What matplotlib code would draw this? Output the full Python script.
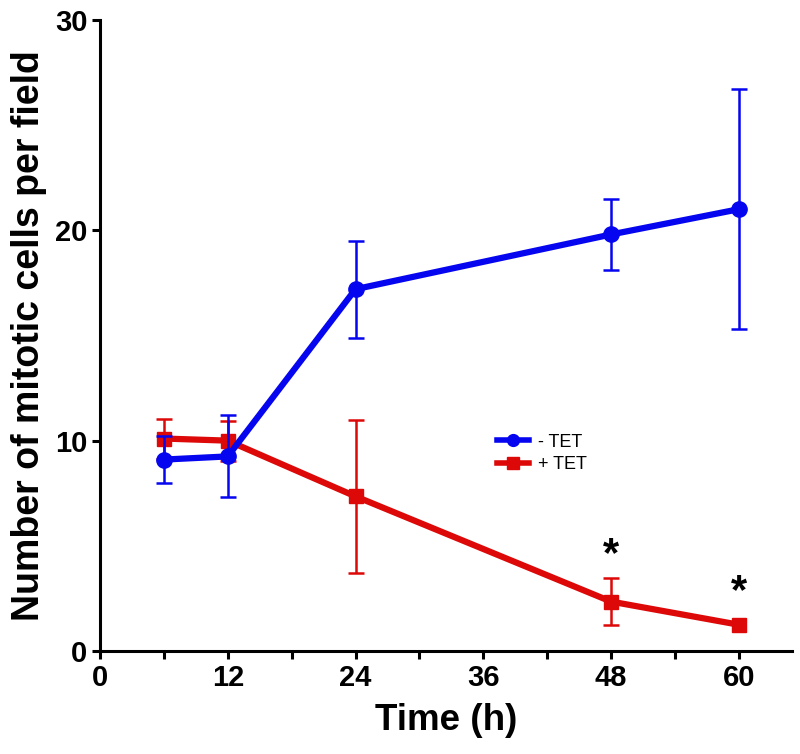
import matplotlib
matplotlib.use("Agg")
import matplotlib.pyplot as plt
from matplotlib.ticker import MultipleLocator
from matplotlib.lines import Line2D
import numpy as np

# Datos
tiempo_menos = [6, 12, 24, 48, 60]
media_menos = [9.1, 9.25, 17.2, 19.8, 21.0]
err_menos = [1.1, 1.95, 2.3, 1.7, 5.7]

tiempo_mas = [6, 12, 24, 48, 60]
media_mas = [10.1, 10.0, 7.35, 2.35, 1.25]
err_mas = [0.95, 0.95, 3.65, 1.1, np.nan]  # sin barra visible a 60 h

# posiciones de los asteriscos (significancia)
sig_x = [48, 60]
sig_y = [4.55, 2.8]

plt.rcParams['font.family'] = ['Liberation Sans', 'DejaVu Sans']

fig = plt.figure(figsize=(8, 7.54), dpi=100)
ax = fig.add_axes([0.125, 0.1366, 0.865, 0.837])

azul = '#0505f0'
rojo = '#dd0808'

ax.errorbar(tiempo_menos, media_menos, yerr=err_menos, color=azul, lw=4.5,
            marker='o', ms=11, elinewidth=1.8, capsize=6, capthick=1.8,
            zorder=3)
ax.errorbar(tiempo_mas, media_mas, yerr=err_mas, color=rojo, lw=4.5,
            marker='s', ms=10, elinewidth=1.8, capsize=6, capthick=1.8,
            zorder=2)

for x, y in zip(sig_x, sig_y):
    ax.text(x, y, '*', ha='center', va='center', fontsize=30,
            fontweight='bold')

ax.set_xlim(0, 65)
ax.set_ylim(0, 30)
ax.xaxis.set_major_locator(MultipleLocator(12))
ax.xaxis.set_minor_locator(MultipleLocator(6))
ax.yaxis.set_major_locator(MultipleLocator(10))

for s in ['top', 'right']:
    ax.spines[s].set_visible(False)
for s in ['left', 'bottom']:
    ax.spines[s].set_linewidth(2.2)

ax.tick_params(which='both', direction='out', length=6, width=2.2)
ax.tick_params(labelsize=21, pad=3)
for lab in ax.get_xticklabels() + ax.get_yticklabels():
    lab.set_fontweight('bold')

ax.set_xlabel('Time (h)', fontsize=26.5, fontweight='bold', labelpad=8)
ax.set_ylabel('Number of mitotic cells per field', fontsize=27,
              fontweight='bold', labelpad=6)

handles = [Line2D([], [], color=azul, lw=4, marker='o', ms=8.5),
           Line2D([], [], color=rojo, lw=4, marker='s', ms=8)]
ax.legend(handles, ['- TET', '+ TET'], loc='center left',
          bbox_to_anchor=(0.56, 0.313), frameon=False, borderpad=0,
          handlelength=1.8, handletextpad=0.5, labelspacing=0.3,
          prop={'size': 13})

fig.savefig('out.png', dpi=100)
